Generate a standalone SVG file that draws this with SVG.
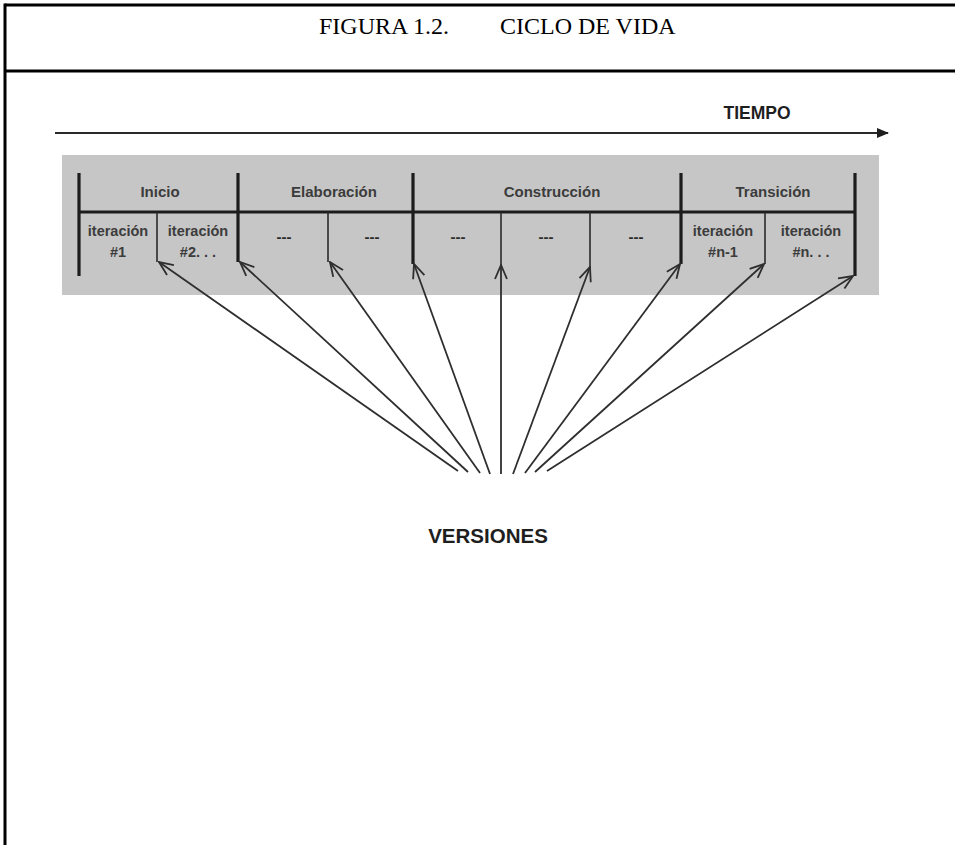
<svg xmlns="http://www.w3.org/2000/svg" width="955" height="845" viewBox="0 0 955 845">
  <style>
    .frame { stroke: #000; stroke-width: 3; fill: none; }
    .title { font-family: "Liberation Serif", "Times New Roman", serif; font-size: 24px; fill: #000; }
    .phase { font-family: "Liberation Sans", Arial, sans-serif; font-size: 15px; font-weight: bold; fill: #3c3c3c; text-anchor: middle; }
    .iter { font-family: "Liberation Sans", Arial, sans-serif; font-size: 14.5px; font-weight: bold; fill: #3c3c3c; text-anchor: middle; }
    .dash { font-family: "Liberation Sans", Arial, sans-serif; font-size: 15px; font-weight: bold; fill: #2a2a2a; text-anchor: middle; }
    .label { font-family: "Liberation Sans", Arial, sans-serif; font-weight: bold; fill: #1e1e1e; text-anchor: middle; }
    .major { stroke: #1c1c1c; stroke-width: 3.2; fill: none; }
    .minor { stroke: #2a2a2a; stroke-width: 1.6; fill: none; }
    .ray { stroke: #2e2e2e; stroke-width: 1.8; fill: none; marker-end: url(#chevron); }
  </style>
  <defs>
    <marker id="chevron" viewBox="0 0 16 14" refX="15" refY="7" markerWidth="16" markerHeight="14" markerUnits="userSpaceOnUse" orient="auto">
      <path d="M1,1 L15,7 L1,13" fill="none" stroke="#2e2e2e" stroke-width="1.8"/>
    </marker>
    <marker id="solid" viewBox="0 0 12 10" refX="11" refY="5" markerWidth="12" markerHeight="10" markerUnits="userSpaceOnUse" orient="auto">
      <path d="M0,0 L12,5 L0,10 Z" fill="#1e1e1e"/>
    </marker>
  </defs>

  <rect width="955" height="845" fill="#fff"/>

  <!-- table frame -->
  <g id="frame">
    <line class="frame" x1="5" y1="5" x2="955" y2="5"/>
    <line class="frame" x1="5" y1="71" x2="955" y2="71"/>
    <line class="frame" x1="5" y1="3.5" x2="5" y2="845"/>
  </g>

  <g id="title">
    <text class="title" x="319" y="34">FIGURA 1.2.</text>
    <text class="title" x="500" y="34">CICLO DE VIDA</text>
  </g>

  <!-- time axis -->
  <g id="tiempo">
    <line x1="55" y1="133" x2="888" y2="133" stroke="#2a2a2a" stroke-width="2" marker-end="url(#solid)"/>
    <text class="label" x="757" y="119" font-size="17.5">TIEMPO</text>
  </g>

  <!-- phase band -->
  <g id="band">
    <rect x="62" y="155" width="817" height="140" fill="#c6c6c6"/>
    <line class="major" x1="79" y1="212" x2="856" y2="212" stroke-width="4"/>
    <line class="major" x1="79" y1="173" x2="79" y2="276"/>
    <line class="major" x1="238" y1="173" x2="238" y2="262"/>
    <line class="major" x1="413" y1="173" x2="413" y2="264"/>
    <line class="major" x1="681" y1="173" x2="681" y2="264"/>
    <line class="major" x1="855" y1="173" x2="855" y2="276"/>
    <line class="minor" x1="157" y1="212" x2="157" y2="262"/>
    <line class="minor" x1="328" y1="212" x2="328" y2="262"/>
    <line class="minor" x1="501" y1="212" x2="501" y2="265"/>
    <line class="minor" x1="590" y1="212" x2="590" y2="267"/>
    <line class="minor" x1="765" y1="212" x2="765" y2="264"/>
  </g>

  <g id="fases">
    <text class="phase" x="160" y="197">Inicio</text>
    <text class="phase" x="334" y="197">Elaboración</text>
    <text class="phase" x="552" y="197">Construcción</text>
    <text class="phase" x="773" y="197">Transición</text>
  </g>

  <g id="iteraciones">
    <text class="iter" x="118" y="236">iteración</text>
    <text class="iter" x="118" y="257">#1</text>
    <text class="iter" x="198" y="236">iteración</text>
    <text class="iter" x="198" y="257">#2. . .</text>
    <text class="dash" x="284" y="242">---</text>
    <text class="dash" x="372" y="242">---</text>
    <text class="dash" x="458" y="242">---</text>
    <text class="dash" x="546" y="242">---</text>
    <text class="dash" x="636" y="242">---</text>
    <text class="iter" x="723" y="236">iteración</text>
    <text class="iter" x="723" y="257">#n-1</text>
    <text class="iter" x="811" y="236">iteración</text>
    <text class="iter" x="811" y="257">#n. . .</text>
  </g>

  <!-- release arrows -->
  <g id="connectors">
    <line class="ray" x1="458" y1="471" x2="159" y2="262"/>
    <line class="ray" x1="468" y1="472" x2="240" y2="262"/>
    <line class="ray" x1="480" y1="473" x2="330" y2="262"/>
    <line class="ray" x1="490" y1="474" x2="414" y2="264"/>
    <line class="ray" x1="501" y1="474" x2="501" y2="265"/>
    <line class="ray" x1="513" y1="474" x2="590" y2="267"/>
    <line class="ray" x1="525" y1="473" x2="680" y2="264"/>
    <line class="ray" x1="535" y1="472" x2="764" y2="264"/>
    <line class="ray" x1="547" y1="471" x2="853" y2="276"/>
  </g>

  <g id="versiones">
    <text class="label" x="488" y="543" font-size="20.5">VERSIONES</text>
  </g>
</svg>
